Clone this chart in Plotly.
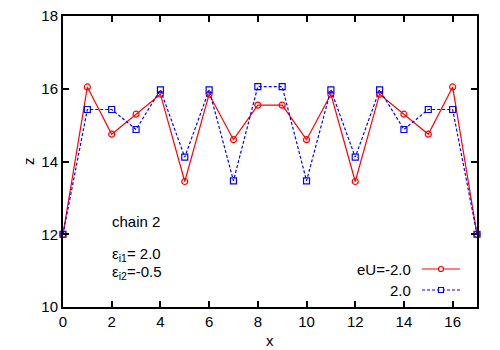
import plotly.graph_objects as go

x = list(range(18))
red_z = [12.0, 16.05, 14.75, 15.3, 15.85, 13.45, 15.85, 14.6, 15.55, 15.55,
         14.6, 15.85, 13.45, 15.85, 15.3, 14.75, 16.05, 12.0]
blue_z = [12.0, 15.43, 15.43, 14.88, 15.97, 14.12, 15.97, 13.47, 16.06, 16.06,
          13.47, 15.97, 14.12, 15.97, 14.88, 15.43, 15.43, 12.0]
names = ["eU=-2.0", "2.0"]
x_ticks = list(range(0, 17, 2))
y_ticks = [10, 12, 14, 16, 18]

FONT = "Liberation Sans, Arial, sans-serif"
fig = go.Figure()
fig.add_trace(go.Scatter(x=x, y=red_z, mode="lines+markers", name=names[0],
                         line=dict(color="#ff0000", width=1.2),
                         marker=dict(symbol="circle-open", size=6, color="#ff0000", line=dict(width=1.2)),
                         cliponaxis=False))
fig.add_trace(go.Scatter(x=x, y=blue_z, mode="lines+markers", name=names[1],
                         line=dict(color="#0000ff", width=1.2, dash="3px,2px"),
                         marker=dict(symbol="square-open", size=6, color="#0000ff", line=dict(width=1.2)),
                         cliponaxis=False))

# page body has an 8px margin: work in screen pixels and shift
OFF = 8
W, H = 500 - OFF, 350 - OFF
L, R, T, B = 63, 477, 16, 307          # plot frame in screen pixels
ml, mr, mt, mb = L - OFF, W - (R - OFF), T - OFF, H - (B - OFF)
pw, ph = R - L, B - T
def px(xp): return (xp - L) / pw
def py(yp): return (B - yp) / ph

annotations = [
    dict(text="chain 2", x=px(110), y=py(222), xanchor="left", yanchor="middle"),
    dict(text="ε<sub>i1</sub>= 2.0", x=px(110), y=py(254), xanchor="left", yanchor="middle"),
    dict(text="ε<sub>i2</sub>=-0.5", x=px(110), y=py(272), xanchor="left", yanchor="middle"),
    dict(text=names[0], x=px(413), y=py(269), xanchor="right", yanchor="middle"),
    dict(text=names[1], x=px(413), y=py(290), xanchor="right", yanchor="middle"),
    dict(text="x", x=px(270), y=py(340), xanchor="center", yanchor="middle"),
    dict(text="z", x=px(28), y=py(161), xanchor="center", yanchor="middle", textangle=-90),
]
for a in annotations:
    a.update(xref="paper", yref="paper", showarrow=False, font=dict(family=FONT, size=15, color="black"))

shapes = []
for yy, col, dash, sym in [(269, "#ff0000", "solid", "circle"), (290, "#0000ff", "3px,2px", "rect")]:
    shapes.append(dict(type="line", xref="paper", yref="paper", x0=px(422), x1=px(460),
                       y0=py(yy), y1=py(yy), line=dict(color=col, width=1.2, dash=dash)))
    shapes.append(dict(type=sym, xref="paper", yref="paper", x0=px(438.5), x1=px(443.5),
                       y0=py(yy - 2.5), y1=py(yy + 2.5), line=dict(color=col, width=1.2),
                       fillcolor="white"))

axis_common = dict(showline=True, linecolor="black", linewidth=2, mirror="ticks",
                   ticks="inside", ticklen=6, tickwidth=1.5, tickcolor="black",
                   showgrid=False, zeroline=False, automargin=False,
                   ticklabeloverflow="allow",
                   tickfont=dict(family=FONT, size=15, color="black"))
fig.update_layout(
    width=W, height=H, margin=dict(l=ml, r=mr, t=mt, b=mb, pad=0, autoexpand=False),
    paper_bgcolor="white", plot_bgcolor="white", showlegend=False,
    annotations=annotations, shapes=shapes,
    xaxis=dict(range=[0, 17], tickvals=x_ticks, **axis_common),
    yaxis=dict(range=[10, 18], tickvals=y_ticks, **axis_common),
)
fig.write_html("out.html")
